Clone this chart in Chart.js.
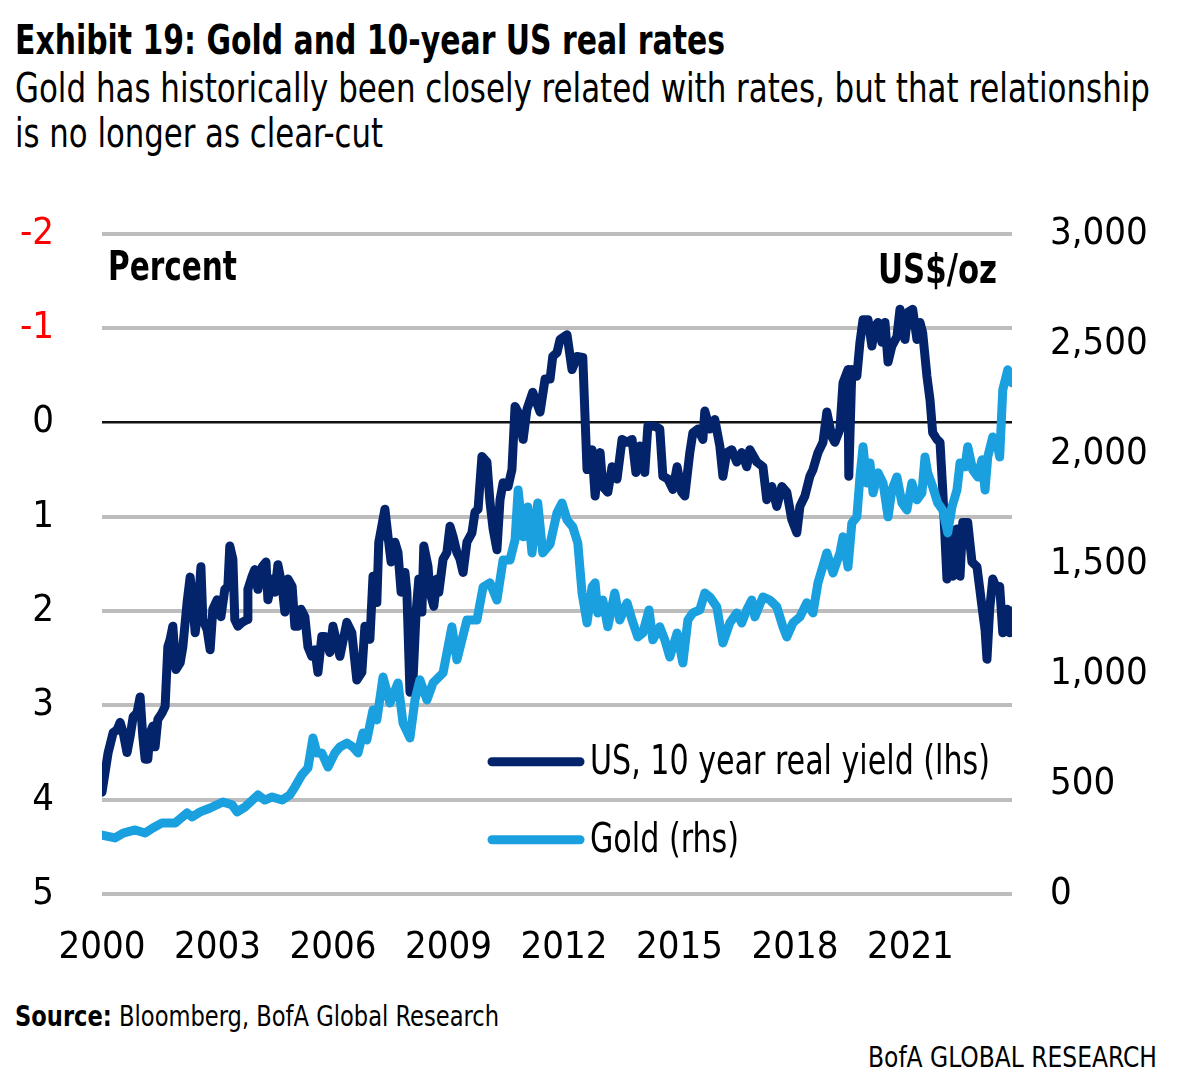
<!DOCTYPE html>
<html>
<head>
<meta charset="utf-8">
<script src="https://cdn.jsdelivr.net/npm/chart.js@4.4.1/dist/chart.umd.min.js"></script>
<style>
  html, body { margin: 0; padding: 0; background: #fff; }
  body { width: 1200px; height: 1089px; position: relative; overflow: hidden;
         font-family: "DejaVu Sans Condensed", "Liberation Sans Narrow", "Roboto", sans-serif; color: #000; }
  .t { position: absolute; white-space: nowrap; transform-origin: 0 0; line-height: 1; }
  #title { left: 15px; top: 20px; font-size: 40px; font-weight: bold; }
  #sub1 { left: 15px; top: 68px; font-size: 40px; }
  #sub2 { left: 15px; top: 113px; font-size: 40px; }
  #source { left: 15px; top: 1002px; font-size: 29px; }
  #brand { left: 868px; top: 1043px; font-size: 29px; }
  #wrap { position: absolute; left: 0; top: 163px; width: 1200px; height: 827px; }
</style>
</head>
<body>
<div class="t" id="title">Exhibit 19: Gold and 10-year US real rates</div>
<div class="t" id="sub1">Gold has historically been closely related with rates, but that relationship</div>
<div class="t" id="sub2">is no longer as clear-cut</div>
<div class="t" id="source"><b>Source:</b> Bloomberg, BofA Global Research</div>
<div class="t" id="brand">BofA GLOBAL RESEARCH</div>
<div id="wrap"><canvas id="c" width="1200" height="827"></canvas></div>
<script>
// ---------- DATA ----------
const seriesLabels = ["US, 10 year real yield (lhs)", "Gold (rhs)"];
const xTickYears = [2000, 2003, 2006, 2009, 2012, 2015, 2018, 2021];
const leftTicks = [-2, -1, 0, 1, 2, 3, 4, 5];
const rightTicks = [0, 500, 1000, 1500, 2000, 2500, 3000];

// [year, percent]
const realYield = [
[2000.00,3.92],[2000.08,3.71],[2000.16,3.50],[2000.29,3.29],[2000.39,3.26],[2000.47,3.18],[2000.55,3.29],[2000.65,3.50],
[2000.73,3.33],[2000.81,3.12],[2000.91,3.08],[2000.99,2.91],[2001.06,3.33],[2001.12,3.57],[2001.19,3.57],[2001.25,3.29],
[2001.32,3.22],[2001.38,3.44],[2001.45,3.15],[2001.56,3.08],[2001.64,3.01],[2001.71,2.38],[2001.77,2.30],[2001.84,2.16],
[2001.92,2.62],[2002.03,2.55],[2002.10,2.38],[2002.21,1.91],[2002.29,1.64],[2002.36,1.91],[2002.42,2.23],[2002.49,2.01],
[2002.57,1.53],[2002.62,2.09],[2002.73,2.20],[2002.81,2.41],[2002.88,1.98],[2002.99,1.88],[2003.09,2.06],[2003.19,1.77],
[2003.27,1.74],[2003.32,1.31],[2003.40,1.45],[2003.45,2.09],[2003.53,2.16],[2003.64,2.12],[2003.77,2.09],[2003.79,1.77],
[2003.90,1.63],[2003.97,1.56],[2004.05,1.77],[2004.16,1.53],[2004.26,1.48],[2004.31,1.88],[2004.42,1.66],[2004.49,1.80],
[2004.57,1.51],[2004.68,1.74],[2004.75,2.01],[2004.83,1.66],[2004.94,1.74],[2005.01,2.16],[2005.09,2.16],[2005.17,1.98],
[2005.27,2.06],[2005.35,2.38],[2005.45,2.48],[2005.53,2.41],[2005.61,2.65],[2005.71,2.27],[2005.79,2.27],[2005.92,2.44],
[2006.00,2.16],[2006.18,2.48],[2006.36,2.12],[2006.49,2.23],[2006.62,2.73],[2006.75,2.65],[2006.83,2.16],[2006.96,2.30],
[2007.04,1.63],[2007.14,1.91],[2007.19,1.27],[2007.35,0.92],[2007.43,1.21],[2007.51,1.48],[2007.61,1.27],[2007.69,1.38],
[2007.77,1.80],[2007.87,1.59],[2007.92,1.80],[2008.00,2.86],[2008.08,2.73],[2008.16,2.01],[2008.23,1.66],[2008.31,2.01],
[2008.36,1.31],[2008.47,1.53],[2008.52,1.80],[2008.62,1.95],[2008.70,1.66],[2008.75,1.80],[2008.86,1.45],[2008.96,1.38],
[2009.04,1.10],[2009.12,1.21],[2009.22,1.38],[2009.30,1.45],[2009.38,1.59],[2009.48,1.27],[2009.61,1.17],[2009.69,0.95],
[2009.77,0.92],[2009.87,0.36],[2010.00,0.42],[2010.08,0.85],[2010.16,1.13],[2010.26,1.35],[2010.34,0.82],[2010.42,0.64],
[2010.55,0.68],[2010.65,0.50],[2010.73,-0.17],[2010.81,-0.11],[2010.94,0.18],[2011.04,-0.14],[2011.19,-0.32],[2011.38,-0.11],
[2011.51,-0.46],[2011.64,-0.46],[2011.71,-0.70],[2011.82,-0.74],[2011.90,-0.88],[2012.08,-0.93],[2012.21,-0.56],[2012.34,-0.70],
[2012.49,-0.69],[2012.60,0.50],[2012.73,0.29],[2012.81,0.78],[2012.94,0.32],[2013.01,0.68],[2013.14,0.74],[2013.25,0.47],
[2013.38,0.60],[2013.51,0.18],[2013.64,0.21],[2013.77,0.18],[2013.87,0.53],[2013.97,0.25],[2014.10,0.53],[2014.18,0.04],
[2014.36,0.04],[2014.49,0.07],[2014.57,0.57],[2014.70,0.60],[2014.83,0.71],[2014.94,0.47],[2015.06,0.74],[2015.14,0.78],
[2015.27,0.32],[2015.35,0.11],[2015.48,0.07],[2015.61,0.18],[2015.66,-0.12],[2015.79,0.07],[2015.92,-0.03],[2016.05,0.25],
[2016.13,0.57],[2016.23,0.32],[2016.36,0.29],[2016.49,0.42],[2016.62,0.32],[2016.75,0.47],[2016.83,0.29],[2017.01,0.42],
[2017.17,0.47],[2017.27,0.82],[2017.40,0.68],[2017.53,0.89],[2017.66,0.68],[2017.79,0.74],[2017.92,1.03],[2018.05,1.17],
[2018.13,0.89],[2018.26,0.78],[2018.39,0.57],[2018.47,0.50],[2018.60,0.32],[2018.73,0.21],[2018.83,-0.11],[2018.96,0.15],
[2019.04,0.21],[2019.17,0.07],[2019.25,-0.42],[2019.38,-0.56],[2019.40,0.57],[2019.48,-0.56],[2019.61,-0.49],[2019.69,-0.85],
[2019.77,-1.09],[2019.90,-1.09],[2020.00,-0.81],[2020.08,-1.02],[2020.16,-1.06],[2020.26,-0.85],[2020.34,-1.06],[2020.42,-0.64],
[2020.52,-0.81],[2020.65,-0.91],[2020.73,-1.20],[2020.86,-0.88],[2020.94,-1.17],[2021.06,-1.20],[2021.17,-0.88],[2021.25,-1.06],
[2021.32,-0.95],[2021.43,-0.49],[2021.51,-0.24],[2021.58,0.11],[2021.69,0.18],[2021.77,0.21],[2021.84,0.71],[2021.95,1.66],
[2022.03,1.13],[2022.10,1.63],[2022.21,1.13],[2022.29,1.63],[2022.36,1.06],[2022.49,1.06],[2022.60,1.48],[2022.73,1.53],
[2022.86,1.95],[2022.94,2.20],[2022.99,2.51],[2023.06,1.98],[2023.14,1.66],[2023.25,1.77],[2023.32,1.74],[2023.40,2.23],
[2023.51,1.98],[2023.58,2.23],[2023.64,2.00]
];

// [year, US$/oz]
const goldPrice = [
[2000.00,268],[2000.34,255],[2000.55,277],[2000.86,291],[2001.12,277],[2001.32,300],[2001.56,323],[2001.90,323],
[2002.21,368],[2002.34,350],[2002.55,373],[2002.81,391],[2003.14,418],[2003.38,405],[2003.51,373],[2003.71,395],
[2004.05,450],[2004.23,427],[2004.42,441],[2004.68,427],[2004.88,450],[2005.01,486],[2005.19,541],[2005.35,573],
[2005.48,709],[2005.58,641],[2005.71,641],[2005.87,577],[2006.05,641],[2006.18,668],[2006.36,686],[2006.52,668],
[2006.65,641],[2006.78,732],[2006.88,700],[2007.04,836],[2007.14,791],[2007.30,986],[2007.48,868],[2007.69,959],
[2007.82,777],[2008.00,709],[2008.13,882],[2008.26,973],[2008.44,882],[2008.60,959],[2008.86,1005],[2009.09,1214],
[2009.22,1064],[2009.48,1245],[2009.74,1245],[2009.90,1395],[2010.08,1414],[2010.26,1336],[2010.42,1518],[2010.60,1518],
[2010.73,1609],[2010.81,1836],[2010.94,1623],[2011.06,1759],[2011.17,1550],[2011.32,1777],[2011.45,1550],[2011.64,1590],
[2011.82,1732],[2011.95,1777],[2012.08,1700],[2012.23,1668],[2012.36,1595],[2012.47,1368],[2012.60,1232],[2012.73,1395],
[2012.81,1414],[2012.88,1277],[2013.01,1336],[2013.14,1214],[2013.32,1368],[2013.45,1245],[2013.64,1323],[2013.77,1245],
[2013.92,1168],[2014.05,1186],[2014.21,1291],[2014.31,1155],[2014.49,1214],[2014.62,1155],[2014.75,1077],[2014.94,1186],
[2015.09,1050],[2015.22,1245],[2015.35,1277],[2015.53,1291],[2015.66,1368],[2015.79,1350],[2015.97,1305],[2016.13,1141],
[2016.31,1232],[2016.49,1277],[2016.62,1232],[2016.75,1291],[2016.88,1336],[2016.96,1259],[2017.17,1350],[2017.35,1336],
[2017.53,1305],[2017.69,1214],[2017.79,1168],[2017.95,1232],[2018.13,1259],[2018.31,1323],[2018.47,1277],[2018.60,1414],
[2018.83,1550],[2018.99,1459],[2019.17,1550],[2019.25,1623],[2019.38,1486],[2019.48,1686],[2019.61,1714],[2019.69,1895],
[2019.77,2032],[2019.87,1868],[2019.95,1959],[2020.03,1823],[2020.16,1914],[2020.29,1868],[2020.42,1714],[2020.52,1836],
[2020.65,1895],[2020.78,1777],[2020.91,1745],[2021.04,1868],[2021.17,1791],[2021.30,1823],[2021.38,1986],[2021.45,1914],
[2021.58,1850],[2021.71,1777],[2021.84,1745],[2021.97,1641],[2022.08,1759],[2022.21,1836],[2022.29,1959],[2022.42,1941],
[2022.49,2032],[2022.62,1927],[2022.75,1895],[2022.86,1973],[2022.94,1836],[2023.01,1986],[2023.14,2077],[2023.25,2050],
[2023.32,1986],[2023.40,2291],[2023.53,2382],[2023.64,2323]
];

// ---------- STYLE ----------
const FONT = '"DejaVu Sans Condensed", "Liberation Sans Narrow", "Roboto", sans-serif';
const NAVY = '#03246B';
const LIGHT = '#1BA0DF';

function fitText(id, w) {
  const el = document.getElementById(id);
  const r = el.getBoundingClientRect().width;
  if (r > 0) el.style.transform = 'scaleX(' + (w / r) + ')';
}
fitText('title', 710);
fitText('sub1', 1135);
fitText('sub2', 368);
fitText('source', 484);
fitText('brand', 289);

function drawFit(ctx, text, x, y, targetW, align) {
  const w = ctx.measureText(text).width;
  const s = targetW / w;
  ctx.save();
  if (align === 'right') { ctx.translate(x - targetW, y); } else { ctx.translate(x, y); }
  ctx.scale(s, 1);
  ctx.textAlign = 'left';
  ctx.fillText(text, 0, 0);
  ctx.restore();
}

const overlay = {
  id: 'overlay',
  afterDraw(chart) {
    const ctx = chart.ctx;
    const a = chart.chartArea;
    ctx.save();
    ctx.fillStyle = '#000';
    ctx.textBaseline = 'alphabetic';
    ctx.font = 'bold 40px ' + FONT;
    drawFit(ctx, 'Percent', a.left + 6, a.top + 46, 129, 'left');
    drawFit(ctx, 'US$/oz', a.right - 15, a.top + 49, 119, 'right');
    // legend
    const items = [
      { label: seriesLabels[0], color: NAVY, y: 528, w: 400 },
      { label: seriesLabels[1], color: LIGHT, y: 606, w: 149 }
    ];
    ctx.font = '40px ' + FONT;
    ctx.textBaseline = 'middle';
    items.forEach(it => {
      ctx.strokeStyle = it.color;
      ctx.lineWidth = 9;
      ctx.lineCap = 'round';
      ctx.beginPath();
      ctx.moveTo(a.left + 390, a.top + it.y);
      ctx.lineTo(a.left + 478, a.top + it.y);
      ctx.stroke();
      ctx.fillStyle = '#000';
      drawFit(ctx, it.label, a.left + 488, a.top + it.y + 2, it.w, 'left');
    });
    ctx.restore();
  }
};

const chart = new Chart(document.getElementById('c'), {
  type: 'line',
  data: {
    datasets: [
      { label: seriesLabels[0], data: realYield.map(p => ({ x: p[0], y: p[1] })), yAxisID: 'y',
        borderColor: NAVY, borderWidth: 9, pointRadius: 0, tension: 0, order: 1,
        borderJoinStyle: 'round', borderCapStyle: 'round' },
      { label: seriesLabels[1], data: goldPrice.map(p => ({ x: p[0], y: p[1] })), yAxisID: 'y2',
        borderColor: LIGHT, borderWidth: 9, pointRadius: 0, tension: 0, order: 0,
        borderJoinStyle: 'round', borderCapStyle: 'round' }
    ]
  },
  options: {
    responsive: false,
    animation: false,
    devicePixelRatio: 1,
    layout: { padding: { top: 34, left: 0, right: 0, bottom: 0 } },
    plugins: { legend: { display: false }, tooltip: { enabled: false } },
    scales: {
      x: {
        type: 'linear', position: 'bottom',
        min: xTickYears[0], max: 2023.64,
        grid: { display: false, drawTicks: false },
        border: { display: false },
        afterBuildTicks: s => { s.ticks = xTickYears.map(v => ({ value: v })); },
        afterFit: s => { s.height = 96; },
        ticks: { autoSkip: false, maxRotation: 0, padding: 31, color: '#000',
                 font: { family: FONT, size: 38 }, callback: v => String(v) }
      },
      y: {
        position: 'left', reverse: true,
        min: leftTicks[0], max: leftTicks[leftTicks.length - 1],
        afterBuildTicks: s => { s.ticks = leftTicks.map(v => ({ value: v })); },
        afterFit: s => { s.width = 102; },
        grid: {
          drawTicks: false,
          color: c => c.tick && c.tick.value === 0 ? '#111' : '#BDBDBD',
          lineWidth: c => c.tick && c.tick.value === 0 ? 2.5 : 4
        },
        border: { display: false },
        ticks: { padding: 48, font: { family: FONT, size: 38 },
                 color: c => c.tick.value < 0 ? '#FF0000' : '#000', callback: v => String(v) }
      },
      y2: {
        position: 'right',
        min: rightTicks[0], max: rightTicks[rightTicks.length - 1],
        afterBuildTicks: s => { s.ticks = rightTicks.map(v => ({ value: v })); },
        afterFit: s => { s.width = 188; },
        grid: { display: false, drawTicks: false },
        border: { display: false },
        ticks: { padding: 38, color: '#000', font: { family: FONT, size: 38 },
                 callback: v => v.toLocaleString('en-US') }
      }
    }
  },
  plugins: [overlay]
});
</script>
</body>
</html>
